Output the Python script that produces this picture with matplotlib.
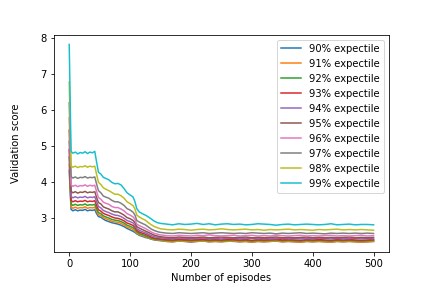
import matplotlib
matplotlib.use("Agg")
import matplotlib.pyplot as plt

episodes = [0, 3, 6, 10, 14, 18, 22, 26, 30, 34, 38, 42, 45, 48, 52, 56, 60, 65, 70, 75,
            80, 85, 90, 95, 100, 105, 108, 111, 115, 120, 125, 130, 135, 140, 145, 150,
            160, 170, 180, 190, 200, 210, 220, 230, 240, 250, 260, 270, 280, 290, 300,
            310, 320, 330, 340, 350, 360, 370, 380, 390, 400, 410, 420, 430, 440, 450,
            460, 470, 480, 490, 500]

labels = ["90% expectile", "91% expectile", "92% expectile", "93% expectile", "94% expectile",
          "95% expectile", "96% expectile", "97% expectile", "98% expectile", "99% expectile"]

e90 = [4.32, 3.24, 3.20, 3.23, 3.20, 3.22, 3.21, 3.24, 3.20, 3.22, 3.21, 3.23, 3.12, 3.04, 3.02, 2.97, 2.93, 2.90, 2.87, 2.85, 2.83, 2.80, 2.76, 2.71, 2.67, 2.63, 2.60, 2.56, 2.52, 2.49, 2.46, 2.44, 2.41, 2.39, 2.38, 2.37,
       2.35, 2.34, 2.36, 2.35, 2.33, 2.35, 2.36, 2.34, 2.35, 2.34, 2.36, 2.35, 2.34, 2.35, 2.33, 2.35, 2.34, 2.35, 2.36, 2.34, 2.35, 2.34, 2.33, 2.35, 2.34, 2.35, 2.34, 2.33, 2.35, 2.34, 2.35, 2.34, 2.33, 2.34, 2.35]
e91 = [4.49, 3.31, 3.27, 3.30, 3.27, 3.29, 3.28, 3.31, 3.27, 3.29, 3.28, 3.30, 3.19, 3.09, 3.07, 3.01, 2.98, 2.95, 2.91, 2.89, 2.88, 2.85, 2.81, 2.75, 2.72, 2.68, 2.64, 2.58, 2.54, 2.51, 2.48, 2.45, 2.42, 2.40, 2.39, 2.38,
       2.35, 2.34, 2.36, 2.35, 2.34, 2.35, 2.36, 2.34, 2.35, 2.34, 2.35, 2.36, 2.34, 2.35, 2.33, 2.35, 2.34, 2.35, 2.36, 2.34, 2.35, 2.34, 2.33, 2.35, 2.34, 2.35, 2.34, 2.33, 2.35, 2.34, 2.35, 2.34, 2.33, 2.34, 2.35]
e92 = [4.69, 3.39, 3.35, 3.38, 3.35, 3.37, 3.36, 3.39, 3.35, 3.37, 3.36, 3.38, 3.26, 3.15, 3.12, 3.06, 3.03, 3.00, 2.96, 2.94, 2.93, 2.90, 2.86, 2.80, 2.77, 2.73, 2.69, 2.62, 2.57, 2.54, 2.51, 2.47, 2.44, 2.42, 2.41, 2.40,
       2.38, 2.37, 2.39, 2.38, 2.37, 2.38, 2.39, 2.37, 2.38, 2.37, 2.38, 2.39, 2.37, 2.38, 2.36, 2.38, 2.37, 2.38, 2.39, 2.37, 2.38, 2.37, 2.36, 2.38, 2.37, 2.38, 2.37, 2.36, 2.38, 2.37, 2.38, 2.37, 2.36, 2.37, 2.38]
e93 = [4.90, 3.49, 3.45, 3.48, 3.45, 3.47, 3.46, 3.49, 3.45, 3.47, 3.46, 3.48, 3.35, 3.23, 3.19, 3.13, 3.10, 3.07, 3.03, 3.00, 2.99, 2.96, 2.92, 2.86, 2.83, 2.79, 2.74, 2.66, 2.61, 2.58, 2.55, 2.51, 2.47, 2.44, 2.43, 2.42,
       2.40, 2.39, 2.41, 2.40, 2.39, 2.40, 2.41, 2.39, 2.40, 2.39, 2.41, 2.40, 2.39, 2.40, 2.38, 2.40, 2.39, 2.40, 2.41, 2.39, 2.40, 2.39, 2.38, 2.40, 2.39, 2.40, 2.39, 2.38, 2.40, 2.39, 2.40, 2.39, 2.38, 2.39, 2.40]
e94 = [5.13, 3.60, 3.56, 3.59, 3.56, 3.58, 3.57, 3.60, 3.56, 3.58, 3.57, 3.59, 3.45, 3.32, 3.28, 3.21, 3.18, 3.15, 3.11, 3.08, 3.07, 3.04, 2.99, 2.93, 2.90, 2.86, 2.80, 2.70, 2.66, 2.62, 2.59, 2.55, 2.51, 2.48, 2.46, 2.45,
       2.43, 2.42, 2.44, 2.43, 2.42, 2.43, 2.44, 2.42, 2.43, 2.42, 2.44, 2.43, 2.42, 2.43, 2.44, 2.42, 2.43, 2.42, 2.43, 2.44, 2.42, 2.43, 2.42, 2.43, 2.42, 2.44, 2.43, 2.42, 2.43, 2.42, 2.43, 2.44, 2.42, 2.43, 2.42]
e95 = [5.44, 3.74, 3.70, 3.73, 3.69, 3.72, 3.71, 3.74, 3.70, 3.72, 3.71, 3.73, 3.57, 3.43, 3.39, 3.31, 3.28, 3.25, 3.20, 3.17, 3.17, 3.13, 3.08, 3.01, 2.98, 2.93, 2.87, 2.76, 2.72, 2.68, 2.64, 2.60, 2.56, 2.52, 2.50, 2.48,
       2.46, 2.45, 2.47, 2.46, 2.45, 2.46, 2.47, 2.45, 2.46, 2.47, 2.46, 2.45, 2.46, 2.47, 2.45, 2.46, 2.45, 2.46, 2.47, 2.45, 2.46, 2.45, 2.46, 2.47, 2.45, 2.46, 2.45, 2.46, 2.45, 2.46, 2.47, 2.45, 2.46, 2.45, 2.46]
e96 = [5.78, 3.92, 3.88, 3.91, 3.87, 3.90, 3.89, 3.92, 3.88, 3.91, 3.89, 3.91, 3.73, 3.57, 3.52, 3.44, 3.41, 3.38, 3.32, 3.29, 3.29, 3.25, 3.20, 3.12, 3.08, 3.03, 2.96, 2.83, 2.79, 2.75, 2.71, 2.66, 2.61, 2.57, 2.55, 2.53,
       2.51, 2.50, 2.52, 2.51, 2.50, 2.52, 2.51, 2.53, 2.51, 2.50, 2.51, 2.52, 2.50, 2.51, 2.52, 2.50, 2.51, 2.50, 2.52, 2.51, 2.50, 2.51, 2.52, 2.50, 2.51, 2.50, 2.51, 2.52, 2.50, 2.51, 2.50, 2.51, 2.52, 2.50, 2.51]
e97 = [6.20, 4.15, 4.11, 4.14, 4.10, 4.13, 4.12, 4.15, 4.11, 4.13, 4.12, 4.14, 3.94, 3.76, 3.70, 3.61, 3.58, 3.55, 3.49, 3.45, 3.45, 3.41, 3.35, 3.26, 3.22, 3.16, 3.08, 2.93, 2.89, 2.85, 2.81, 2.75, 2.69, 2.65, 2.62, 2.60,
       2.58, 2.57, 2.59, 2.58, 2.57, 2.58, 2.59, 2.57, 2.58, 2.59, 2.58, 2.57, 2.58, 2.57, 2.59, 2.58, 2.57, 2.58, 2.56, 2.58, 2.57, 2.58, 2.59, 2.57, 2.58, 2.57, 2.56, 2.58, 2.57, 2.58, 2.57, 2.58, 2.57, 2.58, 2.57]
e98 = [6.78, 4.45, 4.41, 4.44, 4.40, 4.43, 4.42, 4.45, 4.41, 4.44, 4.42, 4.44, 4.21, 3.99, 3.93, 3.84, 3.80, 3.76, 3.71, 3.66, 3.66, 3.62, 3.55, 3.45, 3.40, 3.34, 3.25, 3.08, 3.03, 2.98, 2.94, 2.87, 2.81, 2.76, 2.73, 2.70,
       2.68, 2.67, 2.69, 2.68, 2.66, 2.68, 2.69, 2.67, 2.68, 2.70, 2.68, 2.67, 2.68, 2.69, 2.67, 2.68, 2.66, 2.68, 2.67, 2.68, 2.69, 2.67, 2.68, 2.67, 2.66, 2.68, 2.67, 2.68, 2.69, 2.67, 2.68, 2.67, 2.68, 2.67, 2.66]
e99 = [7.82, 4.85, 4.80, 4.83, 4.78, 4.82, 4.80, 4.84, 4.79, 4.83, 4.81, 4.85, 4.55, 4.27, 4.22, 4.13, 4.10, 4.06, 3.99, 3.95, 3.96, 3.92, 3.82, 3.70, 3.64, 3.58, 3.45, 3.26, 3.17, 3.12, 3.08, 3.03, 2.97, 2.91, 2.87, 2.85,
       2.83, 2.81, 2.84, 2.82, 2.83, 2.85, 2.82, 2.84, 2.81, 2.83, 2.84, 2.82, 2.83, 2.81, 2.82, 2.84, 2.83, 2.82, 2.80, 2.82, 2.83, 2.81, 2.82, 2.83, 2.82, 2.81, 2.82, 2.84, 2.81, 2.82, 2.83, 2.81, 2.82, 2.82, 2.81]

series = [e90, e91, e92, e93, e94, e95, e96, e97, e98, e99]

fig, ax = plt.subplots(figsize=(6, 4), dpi=72)
fig.subplots_adjust(bottom=0.125)
for vals, lab in zip(series, labels):
    ax.plot(episodes, vals, label=lab)
ax.set_xlabel("Number of episodes")
ax.set_ylabel("Validation score", labelpad=20)
ax.legend(loc="upper right")
fig.savefig("out.png", dpi=72)
